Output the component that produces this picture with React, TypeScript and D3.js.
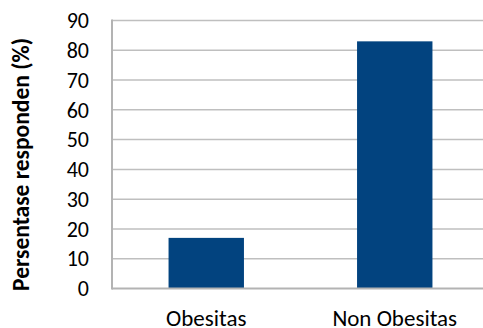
import React from 'react';
import * as d3 from 'd3';

// data
const categories = ['Obesitas', 'Non Obesitas'];
const values = [17, 83];
const yTicks = [0, 10, 20, 30, 40, 50, 60, 70, 80, 90];
const yLabel = 'Persentase responden (%)';

const W = 483;
const H = 328;
const left = 112;
const top = 20.5;
const bottom = 288.5;

const App = () => {
  const x = d3
    .scaleBand<string>()
    .domain(categories)
    .range([left, left + 377])
    .paddingInner(0.6)
    .paddingOuter(0.3);

  const y = d3.scaleLinear().domain([0, 90]).range([bottom, top]);

  const font = 'Carlito, Calibri, Lato, sans-serif';

  return (
    <svg
      width={W}
      height={H}
      style={{ position: 'absolute', left: 0, top: 0, background: '#fff' }}
    >
      {/* gridlines */}
      {yTicks.slice(1).map((t) => (
        <line key={t} x1={left} x2={W} y1={y(t)} y2={y(t)} stroke="#bfbfbf" strokeWidth={1.5} />
      ))}

      {/* bars */}
      {categories.map((c, i) => (
        <rect
          key={c}
          x={x(c)}
          y={y(values[i])}
          width={x.bandwidth()}
          height={bottom - y(values[i])}
          fill="#02437f"
        />
      ))}

      {/* axes */}
      <line x1={left} x2={left} y1={top - 1} y2={bottom + 1} stroke="#b3b3b3" strokeWidth={2} />
      <line x1={left} x2={W} y1={bottom} y2={bottom} stroke="#b3b3b3" strokeWidth={2} />

      {/* y tick labels */}
      {yTicks.map((t) => (
        <text
          key={t}
          x={89}
          y={y(t)}
          dy="0.35em"
          textAnchor="end"
          fontFamily={font}
          fontSize={22}
          fill="#000"
        >
          {t}
        </text>
      ))}

      {/* x labels */}
      {categories.map((c) => (
        <text
          key={c}
          x={(x(c) as number) + x.bandwidth() / 2}
          y={325.5}
          textAnchor="middle"
          fontFamily={font}
          fontSize={23}
          fill="#000"
        >
          {c}
        </text>
      ))}

      {/* y axis title */}
      <text
        transform={`translate(29,${(top + bottom) / 2 + 10}) rotate(-90)`}
        textAnchor="middle"
        fontFamily={font}
        fontSize={23.5}
        fontWeight="bold"
        fill="#000"
      >
        {yLabel}
      </text>
    </svg>
  );
};

export default App;
